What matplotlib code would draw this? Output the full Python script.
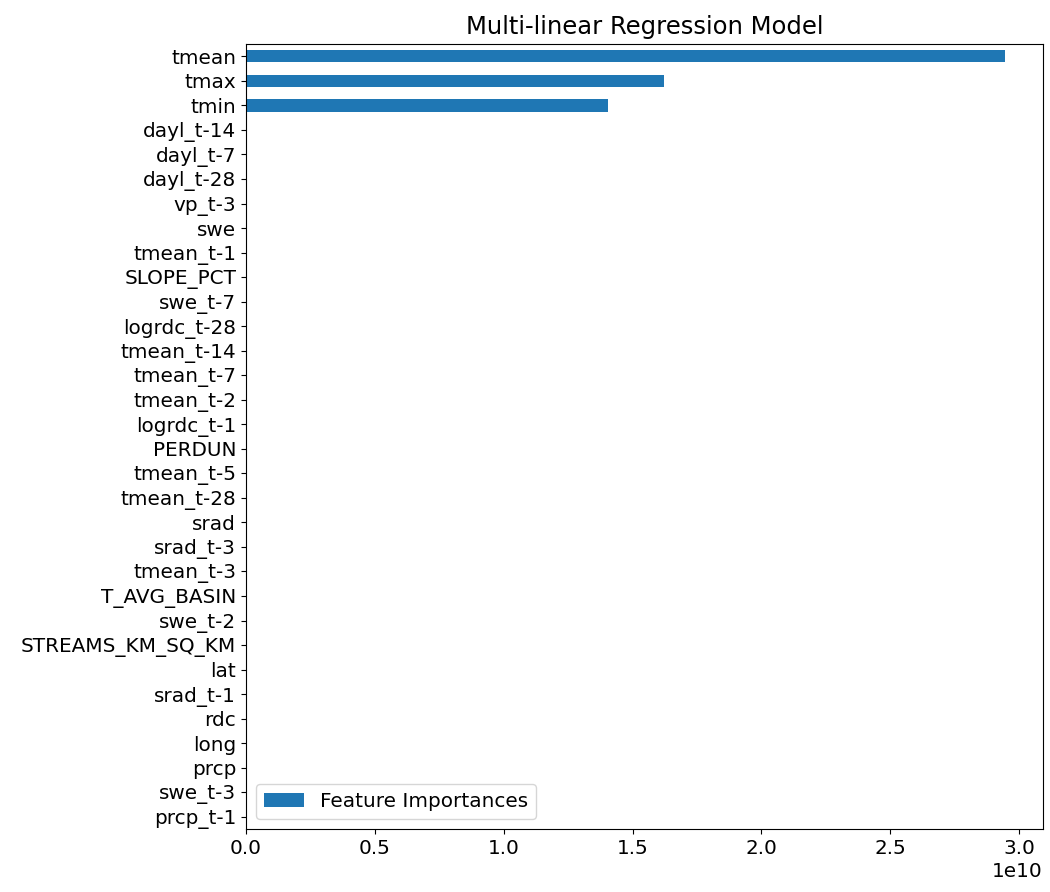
import pandas as pd
from matplotlib import pyplot as plt

plt.rcParams['font.size'] = 14.4

# feature names, most important first
features = [
    'tmean', 'tmax', 'tmin', 'dayl_t-14', 'dayl_t-7', 'dayl_t-28', 'vp_t-3',
    'swe', 'tmean_t-1', 'SLOPE_PCT', 'swe_t-7', 'logrdc_t-28', 'tmean_t-14',
    'tmean_t-7', 'tmean_t-2', 'logrdc_t-1', 'PERDUN', 'tmean_t-5',
    'tmean_t-28', 'srad', 'srad_t-3', 'tmean_t-3', 'T_AVG_BASIN', 'swe_t-2',
    'STREAMS_KM_SQ_KM', 'lat', 'srad_t-1', 'rdc', 'long', 'prcp', 'swe_t-3',
    'prcp_t-1',
]

# absolute regression coefficients
importances = [
    2.945e10, 1.622e10, 1.405e10, 9.8e6, 8.7e6, 7.9e6, 6.4e6,
    5.2e6, 4.6e6, 3.9e6, 3.1e6, 2.7e6, 2.2e6,
    1.9e6, 1.6e6, 1.3e6, 1.1e6, 9.2e5,
    7.7e5, 6.1e5, 4.8e5, 3.9e5, 3.0e5, 2.2e5,
    1.6e5, 1.1e5, 7.4e4, 4.9e4, 2.8e4, 1.5e4, 6.2e3,
    2.1e3,
]


def create_dataframe(names, values):
    df = pd.DataFrame({'Feature Importances': values}, index=names)
    return df.sort_values('Feature Importances')


df = create_dataframe(features, importances)

fig = plt.figure(figsize=(10.5, 8.92), dpi=100)
ax = fig.add_axes([0.2343, 0.0706, 0.759, 0.880])
df.plot.barh(ax=ax, color='#1f77b4')
ax.set_title('Multi-linear Regression Model', fontsize=17.5, pad=7)
ax.legend(loc='lower left')

fig.savefig('out.png', dpi=100)
